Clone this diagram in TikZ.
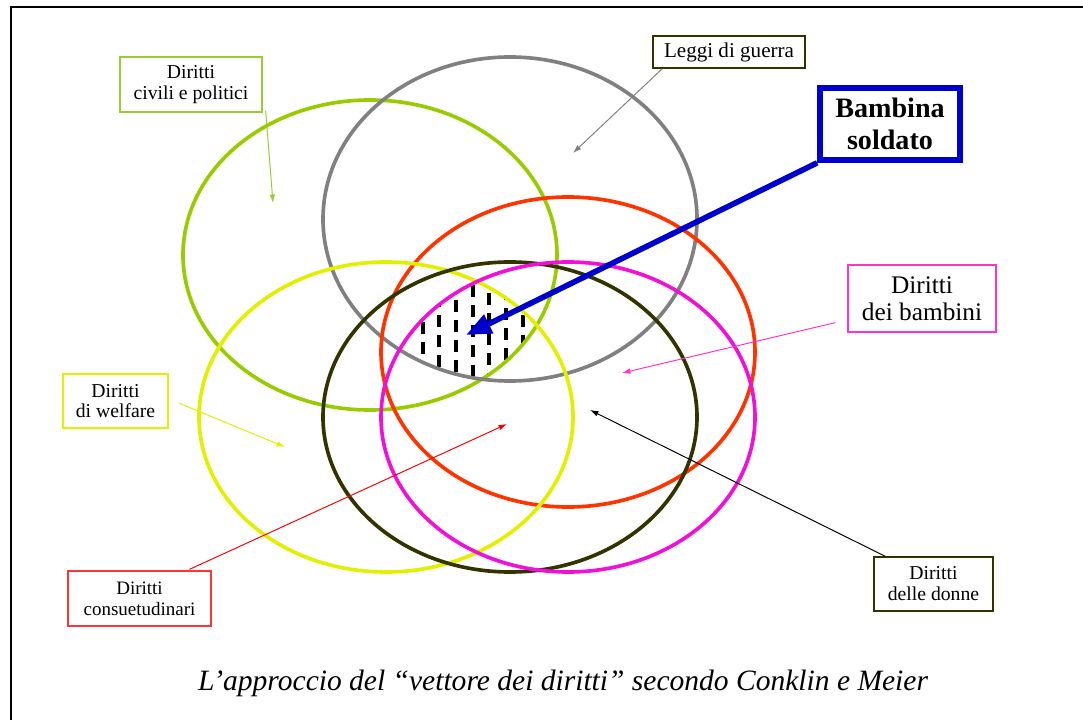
\documentclass[tikz,border=0pt]{standalone}
\usepackage{fontspec}
\setmainfont{Liberation Serif}
\usetikzlibrary{calc,arrows.meta}
\definecolor{ringgreen}{HTML}{99CC00}
\definecolor{ringgray}{HTML}{808080}
\definecolor{ringorange}{HTML}{FF3300}
\definecolor{ringyellow}{HTML}{E2F000}
\definecolor{ringolive}{HTML}{333300}
\definecolor{ringpink}{HTML}{F010D8}
\definecolor{boxgreen}{HTML}{99CC33}
\definecolor{boxpink}{HTML}{FF33CC}
\definecolor{boxred}{HTML}{FF3333}
\definecolor{boxblue}{HTML}{0000CC}
\tikzset{
	ring/.style={line width=2.6pt},
	tag/.style={draw, line width=0.9pt, align=center, inner sep=0pt},
	pointer/.style={line width=0.7pt, -{Latex[length=6pt,width=4pt]}},
}

\begin{document}
\begin{tikzpicture}[x=0.025cm, y=-0.025cm]
			%%%%% START %%%%%
			\useasboundingbox (0,0) rectangle (1083,720);
			\draw[line width=1.5pt] (11,720) -- (11,7) -- (1083,7);
			
			% hatched common part
			\begin{scope}
				\clip (370,255) ellipse [x radius=187, y radius=155];
				\clip (510,219) ellipse [x radius=187, y radius=162];
				\clip (568,352) ellipse [x radius=187, y radius=155];
				\clip (386,417) ellipse [x radius=187, y radius=155];
				\clip (510,417) ellipse [x radius=187, y radius=155];
				\clip (568,417) ellipse [x radius=187, y radius=155];
				\foreach \hx/\hy in {423/262, 439/255, 456/240, 473/225, 489/233, 506/248, 523/255}
					\draw[line width=2.5pt, dash pattern=on 0.3cm off 0.2cm] (\hx,\hy) -- (\hx,400);
			\end{scope}
			
			\draw[ring, ringgreen] (370,255) ellipse [x radius=187, y radius=155];
			\draw[ring, ringgray] (510,219) ellipse [x radius=187, y radius=162];
			\draw[ring, ringorange] (568,352) ellipse [x radius=187, y radius=155];
			\draw[ring, ringyellow] (386,417) ellipse [x radius=187, y radius=155];
			\draw[ring, ringolive] (510,417) ellipse [x radius=187, y radius=155];
			\draw[ring, ringpink] (568,417) ellipse [x radius=187, y radius=155];
			
			% labels
			\node[tag, boxgreen, text=black, minimum width=3.55cm, minimum height=1.375cm, font={\fontsize{14}{15.5}\selectfont}] (civ) at (191,84.5) {Diritti\\civili e politici};
			\node[tag, ringolive, text=black, minimum width=3.8cm, minimum height=0.8cm, font={\fontsize{15}{16}\selectfont}] (war) at (729,52) {Leggi di guerra};
			\node[tag, boxblue, line width=4pt, text=black, minimum width=3.5cm, minimum height=1.8cm, font={\fontsize{20}{23}\selectfont\bfseries}] (girl) at (890,124) {Bambina\\soldato};
			\node[tag, boxpink, text=black, minimum width=3.7cm, minimum height=1.675cm, font={\fontsize{18}{19.5}\selectfont}] (kids) at (922,298.5) {Diritti\\dei bambini};
			\node[tag, ringyellow, text=black, minimum width=2.625cm, minimum height=1.35cm, font={\fontsize{14}{14.5}\selectfont}] (welf) at (115.5,401) {Diritti\\di welfare};
			\node[tag, boxred, text=black, minimum width=3.575cm, minimum height=1.375cm, font={\fontsize{13.5}{15}\selectfont}] (cust) at (139.5,598.5) {Diritti\\consuetudinari};
			\node[tag, ringolive, text=black, minimum width=2.975cm, minimum height=1.35cm, font={\fontsize{14}{15}\selectfont}] (wom) at (933.5,584) {Diritti\\delle donne};
			
			% pointers
			\coordinate (civend) at (273,203);
			\coordinate (warend) at (573,153);
			\coordinate (girlend) at (466,335);
			\coordinate (kidsend) at (622,373);
			\coordinate (welfend) at (285,447);
			\coordinate (custend) at (507,424);
			\coordinate (womend) at (590,410);
			\draw[pointer, boxgreen] ($(civ.south east)+(3,-2)$) -- (civend);
			\draw[pointer, ringgray] ($(war.south west)+(10,0)$) -- (warend);
			\draw[boxblue, line width=4pt, -{Triangle[length=18pt,width=14pt]}] (girl.south west) -- (girlend);
			\draw[pointer, boxpink] ($(kids.south west)+(-12,-10)$) -- (kidsend);
			\draw[pointer, ringyellow] ($(welf.east)+(10,2)$) -- (welfend);
			\draw[pointer, red] ($(cust.north)+(50,-1)$) -- (custend);
			\draw[pointer, black] ($(wom.north west)+(12,0)$) -- (womend);
			
			\node[font={\fontsize{21}{24}\selectfont\itshape}] (caption) at (563,683) {L’approccio del “vettore dei diritti” secondo Conklin e Meier};
			%%%%% END %%%%%
\end{tikzpicture}
\end{document}
